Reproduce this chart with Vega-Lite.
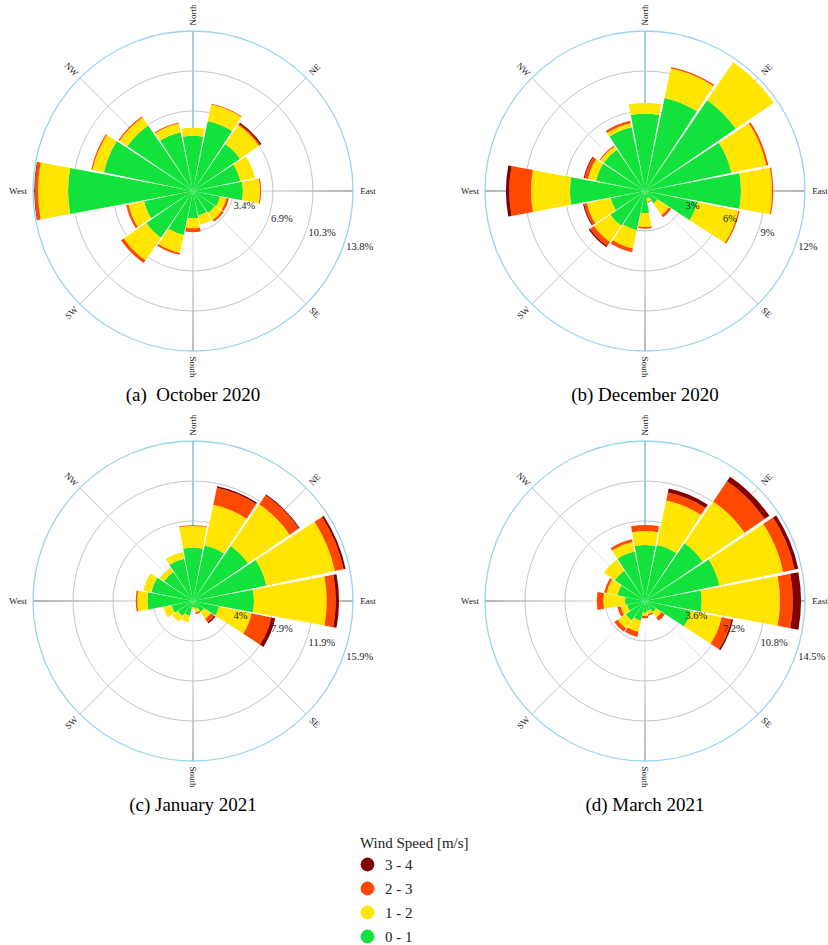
{
  "$schema": "https://vega.github.io/schema/vega-lite/v6.json",
  "padding": 0,
  "background": "white",
  "config": {"view": {"stroke": null}, "font": "Liberation Serif", "title": {"font": "Liberation Serif", "fontSize": 19, "fontWeight": "normal", "color": "black", "orient": "bottom", "anchor": "middle", "offset": 4}},
  "datasets": {"all": [
    {"k":"ring","p":"a","v":3.45,"t":"3.4%"},{"k":"ring","p":"a","v":6.9,"t":"6.9%"},{"k":"ring","p":"a","v":10.35,"t":"10.3%"},{"k":"edge","p":"a","v":13.8,"t":"13.8%"},
    {"k":"ring","p":"b","v":3,"t":"3%"},{"k":"ring","p":"b","v":6,"t":"6%"},{"k":"ring","p":"b","v":9,"t":"9%"},{"k":"edge","p":"b","v":12,"t":"12%"},
    {"k":"ring","p":"c","v":3.975,"t":"4%"},{"k":"ring","p":"c","v":7.95,"t":"7.9%"},{"k":"ring","p":"c","v":11.925,"t":"11.9%"},{"k":"edge","p":"c","v":15.9,"t":"15.9%"},
    {"k":"ring","p":"d","v":3.625,"t":"3.6%"},{"k":"ring","p":"d","v":7.25,"t":"7.2%"},{"k":"ring","p":"d","v":10.875,"t":"10.8%"},{"k":"edge","p":"d","v":14.5,"t":"14.5%"},

    {"k":"axis","p":"a","d":0,"v":13.8,"n":"North"},{"k":"axis","p":"a","d":45,"v":13.8,"n":"NE"},{"k":"axis","p":"a","d":90,"v":13.8,"n":"East"},{"k":"axis","p":"a","d":135,"v":13.8,"n":"SE"},
    {"k":"axis","p":"a","d":180,"v":13.8,"n":"South"},{"k":"axis","p":"a","d":225,"v":13.8,"n":"SW"},{"k":"axis","p":"a","d":270,"v":13.8,"n":"West"},{"k":"axis","p":"a","d":315,"v":13.8,"n":"NW"},
    {"k":"axis","p":"b","d":0,"v":12,"n":"North"},{"k":"axis","p":"b","d":45,"v":12,"n":"NE"},{"k":"axis","p":"b","d":90,"v":12,"n":"East"},{"k":"axis","p":"b","d":135,"v":12,"n":"SE"},
    {"k":"axis","p":"b","d":180,"v":12,"n":"South"},{"k":"axis","p":"b","d":225,"v":12,"n":"SW"},{"k":"axis","p":"b","d":270,"v":12,"n":"West"},{"k":"axis","p":"b","d":315,"v":12,"n":"NW"},
    {"k":"axis","p":"c","d":0,"v":15.9,"n":"North"},{"k":"axis","p":"c","d":45,"v":15.9,"n":"NE"},{"k":"axis","p":"c","d":90,"v":15.9,"n":"East"},{"k":"axis","p":"c","d":135,"v":15.9,"n":"SE"},
    {"k":"axis","p":"c","d":180,"v":15.9,"n":"South"},{"k":"axis","p":"c","d":225,"v":15.9,"n":"SW"},{"k":"axis","p":"c","d":270,"v":15.9,"n":"West"},{"k":"axis","p":"c","d":315,"v":15.9,"n":"NW"},
    {"k":"axis","p":"d","d":0,"v":14.5,"n":"North"},{"k":"axis","p":"d","d":45,"v":14.5,"n":"NE"},{"k":"axis","p":"d","d":90,"v":14.5,"n":"East"},{"k":"axis","p":"d","d":135,"v":14.5,"n":"SE"},
    {"k":"axis","p":"d","d":180,"v":14.5,"n":"South"},{"k":"axis","p":"d","d":225,"v":14.5,"n":"SW"},{"k":"axis","p":"d","d":270,"v":14.5,"n":"West"},{"k":"axis","p":"d","d":315,"v":14.5,"n":"NW"},

    {"k":"bar","p":"a","d":0,"s":"0 - 1","lo":0,"hi":4.77},{"k":"bar","p":"a","d":0,"s":"1 - 2","lo":4.77,"hi":5.46},
    {"k":"bar","p":"a","d":22.5,"s":"0 - 1","lo":0,"hi":6.18},{"k":"bar","p":"a","d":22.5,"s":"1 - 2","lo":6.18,"hi":7.62},{"k":"bar","p":"a","d":22.5,"s":"2 - 3","lo":7.62,"hi":7.70},
    {"k":"bar","p":"a","d":45,"s":"0 - 1","lo":0,"hi":4.92},{"k":"bar","p":"a","d":45,"s":"1 - 2","lo":4.92,"hi":6.90},{"k":"bar","p":"a","d":45,"s":"2 - 3","lo":6.90,"hi":7.03},{"k":"bar","p":"a","d":45,"s":"3 - 4","lo":7.03,"hi":7.16},
    {"k":"bar","p":"a","d":67.5,"s":"0 - 1","lo":0,"hi":4.17},{"k":"bar","p":"a","d":67.5,"s":"1 - 2","lo":4.17,"hi":5.46},
    {"k":"bar","p":"a","d":90,"s":"0 - 1","lo":0,"hi":4.31},{"k":"bar","p":"a","d":90,"s":"1 - 2","lo":4.31,"hi":5.78},{"k":"bar","p":"a","d":90,"s":"2 - 3","lo":5.78,"hi":5.87},
    {"k":"bar","p":"a","d":112.5,"s":"0 - 1","lo":0,"hi":2.39},{"k":"bar","p":"a","d":112.5,"s":"1 - 2","lo":2.39,"hi":2.96},{"k":"bar","p":"a","d":112.5,"s":"2 - 3","lo":2.96,"hi":3.17},
    {"k":"bar","p":"a","d":135,"s":"0 - 1","lo":0,"hi":2.30},{"k":"bar","p":"a","d":135,"s":"1 - 2","lo":2.30,"hi":3.02},{"k":"bar","p":"a","d":135,"s":"2 - 3","lo":3.02,"hi":3.22},
    {"k":"bar","p":"a","d":157.5,"s":"0 - 1","lo":0,"hi":2.16},{"k":"bar","p":"a","d":157.5,"s":"1 - 2","lo":2.16,"hi":2.96},
    {"k":"bar","p":"a","d":180,"s":"0 - 1","lo":0,"hi":2.36},{"k":"bar","p":"a","d":180,"s":"1 - 2","lo":2.36,"hi":3.22},{"k":"bar","p":"a","d":180,"s":"2 - 3","lo":3.22,"hi":3.56},
    {"k":"bar","p":"a","d":202.5,"s":"0 - 1","lo":0,"hi":3.88},{"k":"bar","p":"a","d":202.5,"s":"1 - 2","lo":3.88,"hi":5.46},{"k":"bar","p":"a","d":202.5,"s":"2 - 3","lo":5.46,"hi":5.63},
    {"k":"bar","p":"a","d":225,"s":"0 - 1","lo":0,"hi":4.89},{"k":"bar","p":"a","d":225,"s":"1 - 2","lo":4.89,"hi":7.25},{"k":"bar","p":"a","d":225,"s":"2 - 3","lo":7.25,"hi":7.53},
    {"k":"bar","p":"a","d":247.5,"s":"0 - 1","lo":0,"hi":4.31},{"k":"bar","p":"a","d":247.5,"s":"1 - 2","lo":4.31,"hi":5.69},{"k":"bar","p":"a","d":247.5,"s":"2 - 3","lo":5.69,"hi":5.89},
    {"k":"bar","p":"a","d":270,"s":"0 - 1","lo":0,"hi":10.78},{"k":"bar","p":"a","d":270,"s":"1 - 2","lo":10.78,"hi":13.37},{"k":"bar","p":"a","d":270,"s":"2 - 3","lo":13.37,"hi":13.63},{"k":"bar","p":"a","d":270,"s":"3 - 4","lo":13.63,"hi":13.69},
    {"k":"bar","p":"a","d":292.5,"s":"0 - 1","lo":0,"hi":7.85},{"k":"bar","p":"a","d":292.5,"s":"1 - 2","lo":7.85,"hi":8.86},{"k":"bar","p":"a","d":292.5,"s":"2 - 3","lo":8.86,"hi":8.97},
    {"k":"bar","p":"a","d":315,"s":"0 - 1","lo":0,"hi":6.85},{"k":"bar","p":"a","d":315,"s":"1 - 2","lo":6.85,"hi":7.68},{"k":"bar","p":"a","d":315,"s":"2 - 3","lo":7.68,"hi":7.80},
    {"k":"bar","p":"a","d":337.5,"s":"0 - 1","lo":0,"hi":5.18},{"k":"bar","p":"a","d":337.5,"s":"1 - 2","lo":5.18,"hi":5.95},{"k":"bar","p":"a","d":337.5,"s":"2 - 3","lo":5.95,"hi":6.04},

    {"k":"bar","p":"b","d":0,"s":"0 - 1","lo":0,"hi":5.80},{"k":"bar","p":"b","d":0,"s":"1 - 2","lo":5.80,"hi":6.62},
    {"k":"bar","p":"b","d":22.5,"s":"0 - 1","lo":0,"hi":7.13},{"k":"bar","p":"b","d":22.5,"s":"1 - 2","lo":7.13,"hi":9.40},{"k":"bar","p":"b","d":22.5,"s":"2 - 3","lo":9.40,"hi":9.51},
    {"k":"bar","p":"b","d":45,"s":"0 - 1","lo":0,"hi":8.25},{"k":"bar","p":"b","d":45,"s":"1 - 2","lo":8.25,"hi":11.70},
    {"k":"bar","p":"b","d":67.5,"s":"0 - 1","lo":0,"hi":6.62},{"k":"bar","p":"b","d":67.5,"s":"1 - 2","lo":6.62,"hi":9.30},{"k":"bar","p":"b","d":67.5,"s":"2 - 3","lo":9.30,"hi":9.45},
    {"k":"bar","p":"b","d":90,"s":"0 - 1","lo":0,"hi":7.20},{"k":"bar","p":"b","d":90,"s":"1 - 2","lo":7.20,"hi":9.53},{"k":"bar","p":"b","d":90,"s":"2 - 3","lo":9.53,"hi":9.62},
    {"k":"bar","p":"b","d":112.5,"s":"0 - 1","lo":0,"hi":4.00},{"k":"bar","p":"b","d":112.5,"s":"1 - 2","lo":4.00,"hi":7.15},{"k":"bar","p":"b","d":112.5,"s":"2 - 3","lo":7.15,"hi":7.25},
    {"k":"bar","p":"b","d":135,"s":"0 - 1","lo":0,"hi":1.13},{"k":"bar","p":"b","d":135,"s":"1 - 2","lo":1.13,"hi":2.18},{"k":"bar","p":"b","d":135,"s":"2 - 3","lo":2.18,"hi":2.38},
    {"k":"bar","p":"b","d":157.5,"s":"0 - 1","lo":0,"hi":0.60},{"k":"bar","p":"b","d":157.5,"s":"1 - 2","lo":0.60,"hi":0.83},{"k":"bar","p":"b","d":157.5,"s":"2 - 3","lo":0.83,"hi":0.90},
    {"k":"bar","p":"b","d":180,"s":"0 - 1","lo":0,"hi":1.65},{"k":"bar","p":"b","d":180,"s":"1 - 2","lo":1.65,"hi":2.70},{"k":"bar","p":"b","d":180,"s":"2 - 3","lo":2.70,"hi":2.83},
    {"k":"bar","p":"b","d":202.5,"s":"0 - 1","lo":0,"hi":3.00},{"k":"bar","p":"b","d":202.5,"s":"1 - 2","lo":3.00,"hi":4.40},{"k":"bar","p":"b","d":202.5,"s":"2 - 3","lo":4.40,"hi":4.70},
    {"k":"bar","p":"b","d":225,"s":"0 - 1","lo":0,"hi":3.15},{"k":"bar","p":"b","d":225,"s":"1 - 2","lo":3.15,"hi":4.63},{"k":"bar","p":"b","d":225,"s":"2 - 3","lo":4.63,"hi":5.00},{"k":"bar","p":"b","d":225,"s":"3 - 4","lo":5.00,"hi":5.12},
    {"k":"bar","p":"b","d":247.5,"s":"0 - 1","lo":0,"hi":2.63},{"k":"bar","p":"b","d":247.5,"s":"1 - 2","lo":2.63,"hi":4.45},{"k":"bar","p":"b","d":247.5,"s":"2 - 3","lo":4.45,"hi":4.67},{"k":"bar","p":"b","d":247.5,"s":"3 - 4","lo":4.67,"hi":4.75},
    {"k":"bar","p":"b","d":270,"s":"0 - 1","lo":0,"hi":5.63},{"k":"bar","p":"b","d":270,"s":"1 - 2","lo":5.63,"hi":8.55},{"k":"bar","p":"b","d":270,"s":"2 - 3","lo":8.55,"hi":10.18},{"k":"bar","p":"b","d":270,"s":"3 - 4","lo":10.18,"hi":10.43},
    {"k":"bar","p":"b","d":292.5,"s":"0 - 1","lo":0,"hi":3.75},{"k":"bar","p":"b","d":292.5,"s":"1 - 2","lo":3.75,"hi":4.37},{"k":"bar","p":"b","d":292.5,"s":"2 - 3","lo":4.37,"hi":4.63},{"k":"bar","p":"b","d":292.5,"s":"3 - 4","lo":4.63,"hi":4.70},
    {"k":"bar","p":"b","d":315,"s":"0 - 1","lo":0,"hi":3.75},{"k":"bar","p":"b","d":315,"s":"1 - 2","lo":3.75,"hi":4.05},{"k":"bar","p":"b","d":315,"s":"2 - 3","lo":4.05,"hi":4.13},
    {"k":"bar","p":"b","d":337.5,"s":"0 - 1","lo":0,"hi":4.88},{"k":"bar","p":"b","d":337.5,"s":"1 - 2","lo":4.88,"hi":5.20},{"k":"bar","p":"b","d":337.5,"s":"2 - 3","lo":5.20,"hi":5.38},

    {"k":"bar","p":"c","d":0,"s":"0 - 1","lo":0,"hi":5.30},{"k":"bar","p":"c","d":0,"s":"1 - 2","lo":5.30,"hi":7.45},{"k":"bar","p":"c","d":0,"s":"2 - 3","lo":7.45,"hi":7.52},
    {"k":"bar","p":"c","d":22.5,"s":"0 - 1","lo":0,"hi":5.63},{"k":"bar","p":"c","d":22.5,"s":"1 - 2","lo":5.63,"hi":9.77},{"k":"bar","p":"c","d":22.5,"s":"2 - 3","lo":9.77,"hi":11.50},{"k":"bar","p":"c","d":22.5,"s":"3 - 4","lo":11.50,"hi":11.66},
    {"k":"bar","p":"c","d":45,"s":"0 - 1","lo":0,"hi":6.63},{"k":"bar","p":"c","d":45,"s":"1 - 2","lo":6.63,"hi":11.66},{"k":"bar","p":"c","d":45,"s":"2 - 3","lo":11.66,"hi":12.75},{"k":"bar","p":"c","d":45,"s":"3 - 4","lo":12.75,"hi":12.85},
    {"k":"bar","p":"c","d":67.5,"s":"0 - 1","lo":0,"hi":7.45},{"k":"bar","p":"c","d":67.5,"s":"1 - 2","lo":7.45,"hi":14.41},{"k":"bar","p":"c","d":67.5,"s":"2 - 3","lo":14.41,"hi":15.30},{"k":"bar","p":"c","d":67.5,"s":"3 - 4","lo":15.30,"hi":15.50},
    {"k":"bar","p":"c","d":90,"s":"0 - 1","lo":0,"hi":6.06},{"k":"bar","p":"c","d":90,"s":"1 - 2","lo":6.06,"hi":13.29},{"k":"bar","p":"c","d":90,"s":"2 - 3","lo":13.29,"hi":14.18},{"k":"bar","p":"c","d":90,"s":"3 - 4","lo":14.18,"hi":14.51},
    {"k":"bar","p":"c","d":112.5,"s":"0 - 1","lo":0,"hi":2.65},{"k":"bar","p":"c","d":112.5,"s":"1 - 2","lo":2.65,"hi":5.96},{"k":"bar","p":"c","d":112.5,"s":"2 - 3","lo":5.96,"hi":7.95},{"k":"bar","p":"c","d":112.5,"s":"3 - 4","lo":7.95,"hi":8.35},
    {"k":"bar","p":"c","d":135,"s":"0 - 1","lo":0,"hi":1.32},{"k":"bar","p":"c","d":135,"s":"1 - 2","lo":1.32,"hi":2.16},{"k":"bar","p":"c","d":135,"s":"2 - 3","lo":2.16,"hi":2.58},{"k":"bar","p":"c","d":135,"s":"3 - 4","lo":2.58,"hi":2.71},
    {"k":"bar","p":"c","d":157.5,"s":"0 - 1","lo":0,"hi":0.82},{"k":"bar","p":"c","d":157.5,"s":"1 - 2","lo":0.82,"hi":1.16},{"k":"bar","p":"c","d":157.5,"s":"2 - 3","lo":1.16,"hi":1.32},
    {"k":"bar","p":"c","d":180,"s":"0 - 1","lo":0,"hi":0.60},{"k":"bar","p":"c","d":180,"s":"1 - 2","lo":0.60,"hi":0.82},
    {"k":"bar","p":"c","d":202.5,"s":"0 - 1","lo":0,"hi":1.49},{"k":"bar","p":"c","d":202.5,"s":"1 - 2","lo":1.49,"hi":2.16},
    {"k":"bar","p":"c","d":225,"s":"0 - 1","lo":0,"hi":1.82},{"k":"bar","p":"c","d":225,"s":"1 - 2","lo":1.82,"hi":2.48},
    {"k":"bar","p":"c","d":247.5,"s":"0 - 1","lo":0,"hi":2.16},{"k":"bar","p":"c","d":247.5,"s":"1 - 2","lo":2.16,"hi":2.98},
    {"k":"bar","p":"c","d":270,"s":"0 - 1","lo":0,"hi":4.54},{"k":"bar","p":"c","d":270,"s":"1 - 2","lo":4.54,"hi":5.54},{"k":"bar","p":"c","d":270,"s":"2 - 3","lo":5.54,"hi":5.69},
    {"k":"bar","p":"c","d":292.5,"s":"0 - 1","lo":0,"hi":4.24},{"k":"bar","p":"c","d":292.5,"s":"1 - 2","lo":4.24,"hi":5.04},
    {"k":"bar","p":"c","d":315,"s":"0 - 1","lo":0,"hi":3.48},{"k":"bar","p":"c","d":315,"s":"1 - 2","lo":3.48,"hi":3.98},
    {"k":"bar","p":"c","d":337.5,"s":"0 - 1","lo":0,"hi":4.30},{"k":"bar","p":"c","d":337.5,"s":"1 - 2","lo":4.30,"hi":4.97},

    {"k":"bar","p":"d","d":0,"s":"0 - 1","lo":0,"hi":5.08},{"k":"bar","p":"d","d":0,"s":"1 - 2","lo":5.08,"hi":6.34},{"k":"bar","p":"d","d":0,"s":"2 - 3","lo":6.34,"hi":6.89},
    {"k":"bar","p":"d","d":22.5,"s":"0 - 1","lo":0,"hi":5.19},{"k":"bar","p":"d","d":22.5,"s":"1 - 2","lo":5.19,"hi":9.31},{"k":"bar","p":"d","d":22.5,"s":"2 - 3","lo":9.31,"hi":10.06},{"k":"bar","p":"d","d":22.5,"s":"3 - 4","lo":10.06,"hi":10.42},
    {"k":"bar","p":"d","d":45,"s":"0 - 1","lo":0,"hi":6.34},{"k":"bar","p":"d","d":45,"s":"1 - 2","lo":6.34,"hi":10.94},{"k":"bar","p":"d","d":45,"s":"2 - 3","lo":10.94,"hi":13.14},{"k":"bar","p":"d","d":45,"s":"3 - 4","lo":13.14,"hi":13.66},
    {"k":"bar","p":"d","d":67.5,"s":"0 - 1","lo":0,"hi":6.89},{"k":"bar","p":"d","d":67.5,"s":"1 - 2","lo":6.89,"hi":12.80},{"k":"bar","p":"d","d":67.5,"s":"2 - 3","lo":12.80,"hi":13.85},{"k":"bar","p":"d","d":67.5,"s":"3 - 4","lo":13.85,"hi":14.20},
    {"k":"bar","p":"d","d":90,"s":"0 - 1","lo":0,"hi":5.14},{"k":"bar","p":"d","d":90,"s":"1 - 2","lo":5.14,"hi":12.23},{"k":"bar","p":"d","d":90,"s":"2 - 3","lo":12.23,"hi":13.39},{"k":"bar","p":"d","d":90,"s":"3 - 4","lo":13.39,"hi":14.14},
    {"k":"bar","p":"d","d":112.5,"s":"0 - 1","lo":0,"hi":4.23},{"k":"bar","p":"d","d":112.5,"s":"1 - 2","lo":4.23,"hi":7.10},{"k":"bar","p":"d","d":112.5,"s":"2 - 3","lo":7.10,"hi":8.00},{"k":"bar","p":"d","d":112.5,"s":"3 - 4","lo":8.00,"hi":8.16},
    {"k":"bar","p":"d","d":135,"s":"0 - 1","lo":0,"hi":1.21},{"k":"bar","p":"d","d":135,"s":"1 - 2","lo":1.21,"hi":1.81},{"k":"bar","p":"d","d":135,"s":"2 - 3","lo":1.81,"hi":2.18},
    {"k":"bar","p":"d","d":157.5,"s":"0 - 1","lo":0,"hi":0.91},{"k":"bar","p":"d","d":157.5,"s":"1 - 2","lo":0.91,"hi":1.21},{"k":"bar","p":"d","d":157.5,"s":"2 - 3","lo":1.21,"hi":1.36},
    {"k":"bar","p":"d","d":180,"s":"0 - 1","lo":0,"hi":1.06},{"k":"bar","p":"d","d":180,"s":"1 - 2","lo":1.06,"hi":1.36},{"k":"bar","p":"d","d":180,"s":"2 - 3","lo":1.36,"hi":1.57},
    {"k":"bar","p":"d","d":202.5,"s":"0 - 1","lo":0,"hi":1.81},{"k":"bar","p":"d","d":202.5,"s":"1 - 2","lo":1.81,"hi":2.87},{"k":"bar","p":"d","d":202.5,"s":"2 - 3","lo":2.87,"hi":3.33},
    {"k":"bar","p":"d","d":225,"s":"0 - 1","lo":0,"hi":2.11},{"k":"bar","p":"d","d":225,"s":"1 - 2","lo":2.11,"hi":3.02},{"k":"bar","p":"d","d":225,"s":"2 - 3","lo":3.02,"hi":3.38},
    {"k":"bar","p":"d","d":247.5,"s":"0 - 1","lo":0,"hi":1.66},{"k":"bar","p":"d","d":247.5,"s":"1 - 2","lo":1.66,"hi":2.27},{"k":"bar","p":"d","d":247.5,"s":"2 - 3","lo":2.27,"hi":2.56},
    {"k":"bar","p":"d","d":270,"s":"0 - 1","lo":0,"hi":1.81},{"k":"bar","p":"d","d":270,"s":"1 - 2","lo":1.81,"hi":3.78},{"k":"bar","p":"d","d":270,"s":"2 - 3","lo":3.78,"hi":4.38},
    {"k":"bar","p":"d","d":292.5,"s":"0 - 1","lo":0,"hi":2.56},{"k":"bar","p":"d","d":292.5,"s":"1 - 2","lo":2.56,"hi":3.56},{"k":"bar","p":"d","d":292.5,"s":"2 - 3","lo":3.56,"hi":3.78},
    {"k":"bar","p":"d","d":315,"s":"0 - 1","lo":0,"hi":3.33},{"k":"bar","p":"d","d":315,"s":"1 - 2","lo":3.33,"hi":4.53},
    {"k":"bar","p":"d","d":337.5,"s":"0 - 1","lo":0,"hi":4.58},{"k":"bar","p":"d","d":337.5,"s":"1 - 2","lo":4.58,"hi":5.47},{"k":"bar","p":"d","d":337.5,"s":"2 - 3","lo":5.47,"hi":5.71}
  ]},
  "spacing": 5,
  "resolve": {"scale": {"radius": "independent"}},
  "vconcat": [
    {
      "spacing": 66,
      "resolve": {"scale": {"radius": "independent"}},
      "hconcat": [
        {
          "data": {"name": "all"},
          "transform": [{"filter": "datum.p == 'a'"}],
          "title": {"text": "(a)\u00a0 October 2020"},
          "width": 386, "height": 382,
          "layer": [
            {"transform": [{"filter": "datum.k == 'ring'"}], "mark": {"type": "arc", "filled": false, "stroke": "#c6c6c6", "strokeWidth": 1},
             "encoding": {"theta": {"datum": 0, "type": "quantitative", "scale": {"domain": [0, 360], "range": [0, 6.283185307]}}, "theta2": {"datum": 360},
               "radius": {"field": "v", "type": "quantitative", "stack": null, "scale": {"type": "linear", "zero": true, "nice": false, "domain": [0, 13.8], "range": [0, 160]}}}},
            {"transform": [{"filter": "datum.k == 'axis' && datum.d % 90 != 0"}], "mark": {"type": "arc", "fill": "#cfcfcf", "thetaOffset": -0.0035, "theta2Offset": 0.0035},
             "encoding": {"theta": {"field": "d", "type": "quantitative", "stack": null, "scale": {"domain": [0, 360], "range": [0, 6.283185307]}}, "theta2": {"field": "d"},
               "radius": {"field": "v", "type": "quantitative", "stack": null, "scale": {"type": "linear", "zero": true, "nice": false, "domain": [0, 13.8], "range": [0, 160]}}}},
            {"transform": [{"filter": "datum.k == 'axis' && datum.d % 90 == 0"}], "mark": {"type": "arc", "fill": "#b4b4b4", "thetaOffset": -0.0055, "theta2Offset": 0.0055},
             "encoding": {"theta": {"field": "d", "type": "quantitative", "stack": null, "scale": {"domain": [0, 360], "range": [0, 6.283185307]}}, "theta2": {"field": "d"},
               "radius": {"field": "v", "type": "quantitative", "stack": null, "scale": {"type": "linear", "zero": true, "nice": false, "domain": [0, 13.8], "range": [0, 160]}}}},
            {"transform": [{"filter": "datum.k == 'edge'"}], "mark": {"type": "arc", "filled": false, "stroke": "#98d4ef", "strokeWidth": 1.3},
             "encoding": {"theta": {"datum": 0, "type": "quantitative", "scale": {"domain": [0, 360], "range": [0, 6.283185307]}}, "theta2": {"datum": 360},
               "radius": {"field": "v", "type": "quantitative", "stack": null, "scale": {"type": "linear", "zero": true, "nice": false, "domain": [0, 13.8], "range": [0, 160]}}}},
            {"transform": [{"filter": "datum.k == 'bar'"}], "mark": {"type": "arc", "thetaOffset": -0.185, "theta2Offset": 0.185},
             "encoding": {"theta": {"field": "d", "type": "quantitative", "stack": null, "scale": {"domain": [0, 360], "range": [0, 6.283185307]}}, "theta2": {"field": "d"},
               "radius": {"field": "hi", "type": "quantitative", "stack": null, "scale": {"type": "linear", "zero": true, "nice": false, "domain": [0, 13.8], "range": [0, 160]}}, "radius2": {"field": "lo"},
               "color": {"field": "s", "type": "nominal", "scale": {"domain": ["3 - 4", "2 - 3", "1 - 2", "0 - 1"], "range": ["#820000", "#ff4800", "#ffe500", "#14e23c"]},
                 "legend": {"title": "Wind Speed [m/s]", "orient": "none", "legendX": 360, "legendY": 836, "symbolType": "circle", "symbolSize": 190, "symbolStrokeWidth": 0,
                   "titleFont": "Liberation Serif", "titleFontSize": 15, "titleFontWeight": "normal", "titleColor": "#222", "labelFont": "Liberation Serif", "labelFontSize": 15, "labelColor": "#222",
                   "rowPadding": 8, "labelOffset": 10, "titlePadding": 6}}}},
            {"transform": [{"filter": "datum.k == 'ring' || datum.k == 'edge'"}], "mark": {"type": "text", "align": "left", "baseline": "middle", "radiusOffset": 3, "fontSize": 10.5, "font": "Liberation Serif", "color": "#222"},
             "encoding": {"theta": {"datum": 110, "type": "quantitative", "scale": {"domain": [0, 360], "range": [0, 6.283185307]}},
               "radius": {"field": "v", "type": "quantitative", "stack": null, "scale": {"type": "linear", "zero": true, "nice": false, "domain": [0, 13.8], "range": [0, 160]}}, "text": {"field": "t"}}},
            {"transform": [{"filter": "datum.k == 'axis' && datum.d == 0"}], "mark": {"type": "text", "angle": 270, "align": "center", "baseline": "middle", "radiusOffset": 16, "fontSize": 9, "font": "Liberation Serif", "color": "#222"},
             "encoding": {"theta": {"field": "d", "type": "quantitative", "stack": null, "scale": {"domain": [0, 360], "range": [0, 6.283185307]}},
               "radius": {"field": "v", "type": "quantitative", "stack": null, "scale": {"type": "linear", "zero": true, "nice": false, "domain": [0, 13.8], "range": [0, 160]}}, "text": {"field": "n"}}},
            {"transform": [{"filter": "datum.k == 'axis' && datum.d == 180"}], "mark": {"type": "text", "angle": 90, "align": "center", "baseline": "middle", "radiusOffset": 16, "fontSize": 9, "font": "Liberation Serif", "color": "#222"},
             "encoding": {"theta": {"field": "d", "type": "quantitative", "stack": null, "scale": {"domain": [0, 360], "range": [0, 6.283185307]}},
               "radius": {"field": "v", "type": "quantitative", "stack": null, "scale": {"type": "linear", "zero": true, "nice": false, "domain": [0, 13.8], "range": [0, 160]}}, "text": {"field": "n"}}},
            {"transform": [{"filter": "datum.k == 'axis' && (datum.d == 90 || datum.d == 270)"}], "mark": {"type": "text", "angle": 0, "align": "center", "baseline": "middle", "radiusOffset": 15, "fontSize": 9, "font": "Liberation Serif", "color": "#222"},
             "encoding": {"theta": {"field": "d", "type": "quantitative", "stack": null, "scale": {"domain": [0, 360], "range": [0, 6.283185307]}},
               "radius": {"field": "v", "type": "quantitative", "stack": null, "scale": {"type": "linear", "zero": true, "nice": false, "domain": [0, 13.8], "range": [0, 160]}}, "text": {"field": "n"}}},
            {"transform": [{"filter": "datum.k == 'axis' && (datum.d == 45 || datum.d == 225)"}], "mark": {"type": "text", "angle": 315, "align": "center", "baseline": "middle", "radiusOffset": 12, "fontSize": 9, "font": "Liberation Serif", "color": "#222"},
             "encoding": {"theta": {"field": "d", "type": "quantitative", "stack": null, "scale": {"domain": [0, 360], "range": [0, 6.283185307]}},
               "radius": {"field": "v", "type": "quantitative", "stack": null, "scale": {"type": "linear", "zero": true, "nice": false, "domain": [0, 13.8], "range": [0, 160]}}, "text": {"field": "n"}}},
            {"transform": [{"filter": "datum.k == 'axis' && (datum.d == 135 || datum.d == 315)"}], "mark": {"type": "text", "angle": 45, "align": "center", "baseline": "middle", "radiusOffset": 12, "fontSize": 9, "font": "Liberation Serif", "color": "#222"},
             "encoding": {"theta": {"field": "d", "type": "quantitative", "stack": null, "scale": {"domain": [0, 360], "range": [0, 6.283185307]}},
               "radius": {"field": "v", "type": "quantitative", "stack": null, "scale": {"type": "linear", "zero": true, "nice": false, "domain": [0, 13.8], "range": [0, 160]}}, "text": {"field": "n"}}}
          ]
        },
        {
          "data": {"name": "all"},
          "transform": [{"filter": "datum.p == 'b'"}],
          "title": {"text": "(b) December 2020"},
          "width": 386, "height": 382,
          "layer": [
            {"transform": [{"filter": "datum.k == 'ring'"}], "mark": {"type": "arc", "filled": false, "stroke": "#c6c6c6", "strokeWidth": 1},
             "encoding": {"theta": {"datum": 0, "type": "quantitative", "scale": {"domain": [0, 360], "range": [0, 6.283185307]}}, "theta2": {"datum": 360},
               "radius": {"field": "v", "type": "quantitative", "stack": null, "scale": {"type": "linear", "zero": true, "nice": false, "domain": [0, 12], "range": [0, 160]}}}},
            {"transform": [{"filter": "datum.k == 'axis' && datum.d % 90 != 0"}], "mark": {"type": "arc", "fill": "#cfcfcf", "thetaOffset": -0.0035, "theta2Offset": 0.0035},
             "encoding": {"theta": {"field": "d", "type": "quantitative", "stack": null, "scale": {"domain": [0, 360], "range": [0, 6.283185307]}}, "theta2": {"field": "d"},
               "radius": {"field": "v", "type": "quantitative", "stack": null, "scale": {"type": "linear", "zero": true, "nice": false, "domain": [0, 12], "range": [0, 160]}}}},
            {"transform": [{"filter": "datum.k == 'axis' && datum.d % 90 == 0"}], "mark": {"type": "arc", "fill": "#b4b4b4", "thetaOffset": -0.0055, "theta2Offset": 0.0055},
             "encoding": {"theta": {"field": "d", "type": "quantitative", "stack": null, "scale": {"domain": [0, 360], "range": [0, 6.283185307]}}, "theta2": {"field": "d"},
               "radius": {"field": "v", "type": "quantitative", "stack": null, "scale": {"type": "linear", "zero": true, "nice": false, "domain": [0, 12], "range": [0, 160]}}}},
            {"transform": [{"filter": "datum.k == 'edge'"}], "mark": {"type": "arc", "filled": false, "stroke": "#98d4ef", "strokeWidth": 1.3},
             "encoding": {"theta": {"datum": 0, "type": "quantitative", "scale": {"domain": [0, 360], "range": [0, 6.283185307]}}, "theta2": {"datum": 360},
               "radius": {"field": "v", "type": "quantitative", "stack": null, "scale": {"type": "linear", "zero": true, "nice": false, "domain": [0, 12], "range": [0, 160]}}}},
            {"transform": [{"filter": "datum.k == 'bar'"}], "mark": {"type": "arc", "thetaOffset": -0.185, "theta2Offset": 0.185},
             "encoding": {"theta": {"field": "d", "type": "quantitative", "stack": null, "scale": {"domain": [0, 360], "range": [0, 6.283185307]}}, "theta2": {"field": "d"},
               "radius": {"field": "hi", "type": "quantitative", "stack": null, "scale": {"type": "linear", "zero": true, "nice": false, "domain": [0, 12], "range": [0, 160]}}, "radius2": {"field": "lo"},
               "color": {"field": "s", "type": "nominal", "scale": {"domain": ["3 - 4", "2 - 3", "1 - 2", "0 - 1"], "range": ["#820000", "#ff4800", "#ffe500", "#14e23c"]}}}},
            {"transform": [{"filter": "datum.k == 'ring' || datum.k == 'edge'"}], "mark": {"type": "text", "align": "left", "baseline": "middle", "radiusOffset": 3, "fontSize": 10.5, "font": "Liberation Serif", "color": "#222"},
             "encoding": {"theta": {"datum": 110, "type": "quantitative", "scale": {"domain": [0, 360], "range": [0, 6.283185307]}},
               "radius": {"field": "v", "type": "quantitative", "stack": null, "scale": {"type": "linear", "zero": true, "nice": false, "domain": [0, 12], "range": [0, 160]}}, "text": {"field": "t"}}},
            {"transform": [{"filter": "datum.k == 'axis' && datum.d == 0"}], "mark": {"type": "text", "angle": 270, "align": "center", "baseline": "middle", "radiusOffset": 16, "fontSize": 9, "font": "Liberation Serif", "color": "#222"},
             "encoding": {"theta": {"field": "d", "type": "quantitative", "stack": null, "scale": {"domain": [0, 360], "range": [0, 6.283185307]}},
               "radius": {"field": "v", "type": "quantitative", "stack": null, "scale": {"type": "linear", "zero": true, "nice": false, "domain": [0, 12], "range": [0, 160]}}, "text": {"field": "n"}}},
            {"transform": [{"filter": "datum.k == 'axis' && datum.d == 180"}], "mark": {"type": "text", "angle": 90, "align": "center", "baseline": "middle", "radiusOffset": 16, "fontSize": 9, "font": "Liberation Serif", "color": "#222"},
             "encoding": {"theta": {"field": "d", "type": "quantitative", "stack": null, "scale": {"domain": [0, 360], "range": [0, 6.283185307]}},
               "radius": {"field": "v", "type": "quantitative", "stack": null, "scale": {"type": "linear", "zero": true, "nice": false, "domain": [0, 12], "range": [0, 160]}}, "text": {"field": "n"}}},
            {"transform": [{"filter": "datum.k == 'axis' && (datum.d == 90 || datum.d == 270)"}], "mark": {"type": "text", "angle": 0, "align": "center", "baseline": "middle", "radiusOffset": 15, "fontSize": 9, "font": "Liberation Serif", "color": "#222"},
             "encoding": {"theta": {"field": "d", "type": "quantitative", "stack": null, "scale": {"domain": [0, 360], "range": [0, 6.283185307]}},
               "radius": {"field": "v", "type": "quantitative", "stack": null, "scale": {"type": "linear", "zero": true, "nice": false, "domain": [0, 12], "range": [0, 160]}}, "text": {"field": "n"}}},
            {"transform": [{"filter": "datum.k == 'axis' && (datum.d == 45 || datum.d == 225)"}], "mark": {"type": "text", "angle": 315, "align": "center", "baseline": "middle", "radiusOffset": 12, "fontSize": 9, "font": "Liberation Serif", "color": "#222"},
             "encoding": {"theta": {"field": "d", "type": "quantitative", "stack": null, "scale": {"domain": [0, 360], "range": [0, 6.283185307]}},
               "radius": {"field": "v", "type": "quantitative", "stack": null, "scale": {"type": "linear", "zero": true, "nice": false, "domain": [0, 12], "range": [0, 160]}}, "text": {"field": "n"}}},
            {"transform": [{"filter": "datum.k == 'axis' && (datum.d == 135 || datum.d == 315)"}], "mark": {"type": "text", "angle": 45, "align": "center", "baseline": "middle", "radiusOffset": 12, "fontSize": 9, "font": "Liberation Serif", "color": "#222"},
             "encoding": {"theta": {"field": "d", "type": "quantitative", "stack": null, "scale": {"domain": [0, 360], "range": [0, 6.283185307]}},
               "radius": {"field": "v", "type": "quantitative", "stack": null, "scale": {"type": "linear", "zero": true, "nice": false, "domain": [0, 12], "range": [0, 160]}}, "text": {"field": "n"}}}
          ]
        }
      ]
    },
    {
      "spacing": 66,
      "resolve": {"scale": {"radius": "independent"}},
      "hconcat": [
        {
          "data": {"name": "all"},
          "transform": [{"filter": "datum.p == 'c'"}],
          "title": {"text": "(c) January 2021"},
          "width": 386, "height": 382,
          "layer": [
            {"transform": [{"filter": "datum.k == 'ring'"}], "mark": {"type": "arc", "filled": false, "stroke": "#c6c6c6", "strokeWidth": 1},
             "encoding": {"theta": {"datum": 0, "type": "quantitative", "scale": {"domain": [0, 360], "range": [0, 6.283185307]}}, "theta2": {"datum": 360},
               "radius": {"field": "v", "type": "quantitative", "stack": null, "scale": {"type": "linear", "zero": true, "nice": false, "domain": [0, 15.9], "range": [0, 160]}}}},
            {"transform": [{"filter": "datum.k == 'axis' && datum.d % 90 != 0"}], "mark": {"type": "arc", "fill": "#cfcfcf", "thetaOffset": -0.0035, "theta2Offset": 0.0035},
             "encoding": {"theta": {"field": "d", "type": "quantitative", "stack": null, "scale": {"domain": [0, 360], "range": [0, 6.283185307]}}, "theta2": {"field": "d"},
               "radius": {"field": "v", "type": "quantitative", "stack": null, "scale": {"type": "linear", "zero": true, "nice": false, "domain": [0, 15.9], "range": [0, 160]}}}},
            {"transform": [{"filter": "datum.k == 'axis' && datum.d % 90 == 0"}], "mark": {"type": "arc", "fill": "#b4b4b4", "thetaOffset": -0.0055, "theta2Offset": 0.0055},
             "encoding": {"theta": {"field": "d", "type": "quantitative", "stack": null, "scale": {"domain": [0, 360], "range": [0, 6.283185307]}}, "theta2": {"field": "d"},
               "radius": {"field": "v", "type": "quantitative", "stack": null, "scale": {"type": "linear", "zero": true, "nice": false, "domain": [0, 15.9], "range": [0, 160]}}}},
            {"transform": [{"filter": "datum.k == 'edge'"}], "mark": {"type": "arc", "filled": false, "stroke": "#98d4ef", "strokeWidth": 1.3},
             "encoding": {"theta": {"datum": 0, "type": "quantitative", "scale": {"domain": [0, 360], "range": [0, 6.283185307]}}, "theta2": {"datum": 360},
               "radius": {"field": "v", "type": "quantitative", "stack": null, "scale": {"type": "linear", "zero": true, "nice": false, "domain": [0, 15.9], "range": [0, 160]}}}},
            {"transform": [{"filter": "datum.k == 'bar'"}], "mark": {"type": "arc", "thetaOffset": -0.185, "theta2Offset": 0.185},
             "encoding": {"theta": {"field": "d", "type": "quantitative", "stack": null, "scale": {"domain": [0, 360], "range": [0, 6.283185307]}}, "theta2": {"field": "d"},
               "radius": {"field": "hi", "type": "quantitative", "stack": null, "scale": {"type": "linear", "zero": true, "nice": false, "domain": [0, 15.9], "range": [0, 160]}}, "radius2": {"field": "lo"},
               "color": {"field": "s", "type": "nominal", "scale": {"domain": ["3 - 4", "2 - 3", "1 - 2", "0 - 1"], "range": ["#820000", "#ff4800", "#ffe500", "#14e23c"]}}}},
            {"transform": [{"filter": "datum.k == 'ring' || datum.k == 'edge'"}], "mark": {"type": "text", "align": "left", "baseline": "middle", "radiusOffset": 3, "fontSize": 10.5, "font": "Liberation Serif", "color": "#222"},
             "encoding": {"theta": {"datum": 110, "type": "quantitative", "scale": {"domain": [0, 360], "range": [0, 6.283185307]}},
               "radius": {"field": "v", "type": "quantitative", "stack": null, "scale": {"type": "linear", "zero": true, "nice": false, "domain": [0, 15.9], "range": [0, 160]}}, "text": {"field": "t"}}},
            {"transform": [{"filter": "datum.k == 'axis' && datum.d == 0"}], "mark": {"type": "text", "angle": 270, "align": "center", "baseline": "middle", "radiusOffset": 16, "fontSize": 9, "font": "Liberation Serif", "color": "#222"},
             "encoding": {"theta": {"field": "d", "type": "quantitative", "stack": null, "scale": {"domain": [0, 360], "range": [0, 6.283185307]}},
               "radius": {"field": "v", "type": "quantitative", "stack": null, "scale": {"type": "linear", "zero": true, "nice": false, "domain": [0, 15.9], "range": [0, 160]}}, "text": {"field": "n"}}},
            {"transform": [{"filter": "datum.k == 'axis' && datum.d == 180"}], "mark": {"type": "text", "angle": 90, "align": "center", "baseline": "middle", "radiusOffset": 16, "fontSize": 9, "font": "Liberation Serif", "color": "#222"},
             "encoding": {"theta": {"field": "d", "type": "quantitative", "stack": null, "scale": {"domain": [0, 360], "range": [0, 6.283185307]}},
               "radius": {"field": "v", "type": "quantitative", "stack": null, "scale": {"type": "linear", "zero": true, "nice": false, "domain": [0, 15.9], "range": [0, 160]}}, "text": {"field": "n"}}},
            {"transform": [{"filter": "datum.k == 'axis' && (datum.d == 90 || datum.d == 270)"}], "mark": {"type": "text", "angle": 0, "align": "center", "baseline": "middle", "radiusOffset": 15, "fontSize": 9, "font": "Liberation Serif", "color": "#222"},
             "encoding": {"theta": {"field": "d", "type": "quantitative", "stack": null, "scale": {"domain": [0, 360], "range": [0, 6.283185307]}},
               "radius": {"field": "v", "type": "quantitative", "stack": null, "scale": {"type": "linear", "zero": true, "nice": false, "domain": [0, 15.9], "range": [0, 160]}}, "text": {"field": "n"}}},
            {"transform": [{"filter": "datum.k == 'axis' && (datum.d == 45 || datum.d == 225)"}], "mark": {"type": "text", "angle": 315, "align": "center", "baseline": "middle", "radiusOffset": 12, "fontSize": 9, "font": "Liberation Serif", "color": "#222"},
             "encoding": {"theta": {"field": "d", "type": "quantitative", "stack": null, "scale": {"domain": [0, 360], "range": [0, 6.283185307]}},
               "radius": {"field": "v", "type": "quantitative", "stack": null, "scale": {"type": "linear", "zero": true, "nice": false, "domain": [0, 15.9], "range": [0, 160]}}, "text": {"field": "n"}}},
            {"transform": [{"filter": "datum.k == 'axis' && (datum.d == 135 || datum.d == 315)"}], "mark": {"type": "text", "angle": 45, "align": "center", "baseline": "middle", "radiusOffset": 12, "fontSize": 9, "font": "Liberation Serif", "color": "#222"},
             "encoding": {"theta": {"field": "d", "type": "quantitative", "stack": null, "scale": {"domain": [0, 360], "range": [0, 6.283185307]}},
               "radius": {"field": "v", "type": "quantitative", "stack": null, "scale": {"type": "linear", "zero": true, "nice": false, "domain": [0, 15.9], "range": [0, 160]}}, "text": {"field": "n"}}}
          ]
        },
        {
          "data": {"name": "all"},
          "transform": [{"filter": "datum.p == 'd'"}],
          "title": {"text": "(d) March 2021"},
          "width": 386, "height": 382,
          "layer": [
            {"transform": [{"filter": "datum.k == 'ring'"}], "mark": {"type": "arc", "filled": false, "stroke": "#c6c6c6", "strokeWidth": 1},
             "encoding": {"theta": {"datum": 0, "type": "quantitative", "scale": {"domain": [0, 360], "range": [0, 6.283185307]}}, "theta2": {"datum": 360},
               "radius": {"field": "v", "type": "quantitative", "stack": null, "scale": {"type": "linear", "zero": true, "nice": false, "domain": [0, 14.5], "range": [0, 160]}}}},
            {"transform": [{"filter": "datum.k == 'axis' && datum.d % 90 != 0"}], "mark": {"type": "arc", "fill": "#cfcfcf", "thetaOffset": -0.0035, "theta2Offset": 0.0035},
             "encoding": {"theta": {"field": "d", "type": "quantitative", "stack": null, "scale": {"domain": [0, 360], "range": [0, 6.283185307]}}, "theta2": {"field": "d"},
               "radius": {"field": "v", "type": "quantitative", "stack": null, "scale": {"type": "linear", "zero": true, "nice": false, "domain": [0, 14.5], "range": [0, 160]}}}},
            {"transform": [{"filter": "datum.k == 'axis' && datum.d % 90 == 0"}], "mark": {"type": "arc", "fill": "#b4b4b4", "thetaOffset": -0.0055, "theta2Offset": 0.0055},
             "encoding": {"theta": {"field": "d", "type": "quantitative", "stack": null, "scale": {"domain": [0, 360], "range": [0, 6.283185307]}}, "theta2": {"field": "d"},
               "radius": {"field": "v", "type": "quantitative", "stack": null, "scale": {"type": "linear", "zero": true, "nice": false, "domain": [0, 14.5], "range": [0, 160]}}}},
            {"transform": [{"filter": "datum.k == 'edge'"}], "mark": {"type": "arc", "filled": false, "stroke": "#98d4ef", "strokeWidth": 1.3},
             "encoding": {"theta": {"datum": 0, "type": "quantitative", "scale": {"domain": [0, 360], "range": [0, 6.283185307]}}, "theta2": {"datum": 360},
               "radius": {"field": "v", "type": "quantitative", "stack": null, "scale": {"type": "linear", "zero": true, "nice": false, "domain": [0, 14.5], "range": [0, 160]}}}},
            {"transform": [{"filter": "datum.k == 'bar'"}], "mark": {"type": "arc", "thetaOffset": -0.185, "theta2Offset": 0.185},
             "encoding": {"theta": {"field": "d", "type": "quantitative", "stack": null, "scale": {"domain": [0, 360], "range": [0, 6.283185307]}}, "theta2": {"field": "d"},
               "radius": {"field": "hi", "type": "quantitative", "stack": null, "scale": {"type": "linear", "zero": true, "nice": false, "domain": [0, 14.5], "range": [0, 160]}}, "radius2": {"field": "lo"},
               "color": {"field": "s", "type": "nominal", "scale": {"domain": ["3 - 4", "2 - 3", "1 - 2", "0 - 1"], "range": ["#820000", "#ff4800", "#ffe500", "#14e23c"]}}}},
            {"transform": [{"filter": "datum.k == 'ring' || datum.k == 'edge'"}], "mark": {"type": "text", "align": "left", "baseline": "middle", "radiusOffset": 3, "fontSize": 10.5, "font": "Liberation Serif", "color": "#222"},
             "encoding": {"theta": {"datum": 110, "type": "quantitative", "scale": {"domain": [0, 360], "range": [0, 6.283185307]}},
               "radius": {"field": "v", "type": "quantitative", "stack": null, "scale": {"type": "linear", "zero": true, "nice": false, "domain": [0, 14.5], "range": [0, 160]}}, "text": {"field": "t"}}},
            {"transform": [{"filter": "datum.k == 'axis' && datum.d == 0"}], "mark": {"type": "text", "angle": 270, "align": "center", "baseline": "middle", "radiusOffset": 16, "fontSize": 9, "font": "Liberation Serif", "color": "#222"},
             "encoding": {"theta": {"field": "d", "type": "quantitative", "stack": null, "scale": {"domain": [0, 360], "range": [0, 6.283185307]}},
               "radius": {"field": "v", "type": "quantitative", "stack": null, "scale": {"type": "linear", "zero": true, "nice": false, "domain": [0, 14.5], "range": [0, 160]}}, "text": {"field": "n"}}},
            {"transform": [{"filter": "datum.k == 'axis' && datum.d == 180"}], "mark": {"type": "text", "angle": 90, "align": "center", "baseline": "middle", "radiusOffset": 16, "fontSize": 9, "font": "Liberation Serif", "color": "#222"},
             "encoding": {"theta": {"field": "d", "type": "quantitative", "stack": null, "scale": {"domain": [0, 360], "range": [0, 6.283185307]}},
               "radius": {"field": "v", "type": "quantitative", "stack": null, "scale": {"type": "linear", "zero": true, "nice": false, "domain": [0, 14.5], "range": [0, 160]}}, "text": {"field": "n"}}},
            {"transform": [{"filter": "datum.k == 'axis' && (datum.d == 90 || datum.d == 270)"}], "mark": {"type": "text", "angle": 0, "align": "center", "baseline": "middle", "radiusOffset": 15, "fontSize": 9, "font": "Liberation Serif", "color": "#222"},
             "encoding": {"theta": {"field": "d", "type": "quantitative", "stack": null, "scale": {"domain": [0, 360], "range": [0, 6.283185307]}},
               "radius": {"field": "v", "type": "quantitative", "stack": null, "scale": {"type": "linear", "zero": true, "nice": false, "domain": [0, 14.5], "range": [0, 160]}}, "text": {"field": "n"}}},
            {"transform": [{"filter": "datum.k == 'axis' && (datum.d == 45 || datum.d == 225)"}], "mark": {"type": "text", "angle": 315, "align": "center", "baseline": "middle", "radiusOffset": 12, "fontSize": 9, "font": "Liberation Serif", "color": "#222"},
             "encoding": {"theta": {"field": "d", "type": "quantitative", "stack": null, "scale": {"domain": [0, 360], "range": [0, 6.283185307]}},
               "radius": {"field": "v", "type": "quantitative", "stack": null, "scale": {"type": "linear", "zero": true, "nice": false, "domain": [0, 14.5], "range": [0, 160]}}, "text": {"field": "n"}}},
            {"transform": [{"filter": "datum.k == 'axis' && (datum.d == 135 || datum.d == 315)"}], "mark": {"type": "text", "angle": 45, "align": "center", "baseline": "middle", "radiusOffset": 12, "fontSize": 9, "font": "Liberation Serif", "color": "#222"},
             "encoding": {"theta": {"field": "d", "type": "quantitative", "stack": null, "scale": {"domain": [0, 360], "range": [0, 6.283185307]}},
               "radius": {"field": "v", "type": "quantitative", "stack": null, "scale": {"type": "linear", "zero": true, "nice": false, "domain": [0, 14.5], "range": [0, 160]}}, "text": {"field": "n"}}}
          ]
        }
      ]
    }
  ]
}
